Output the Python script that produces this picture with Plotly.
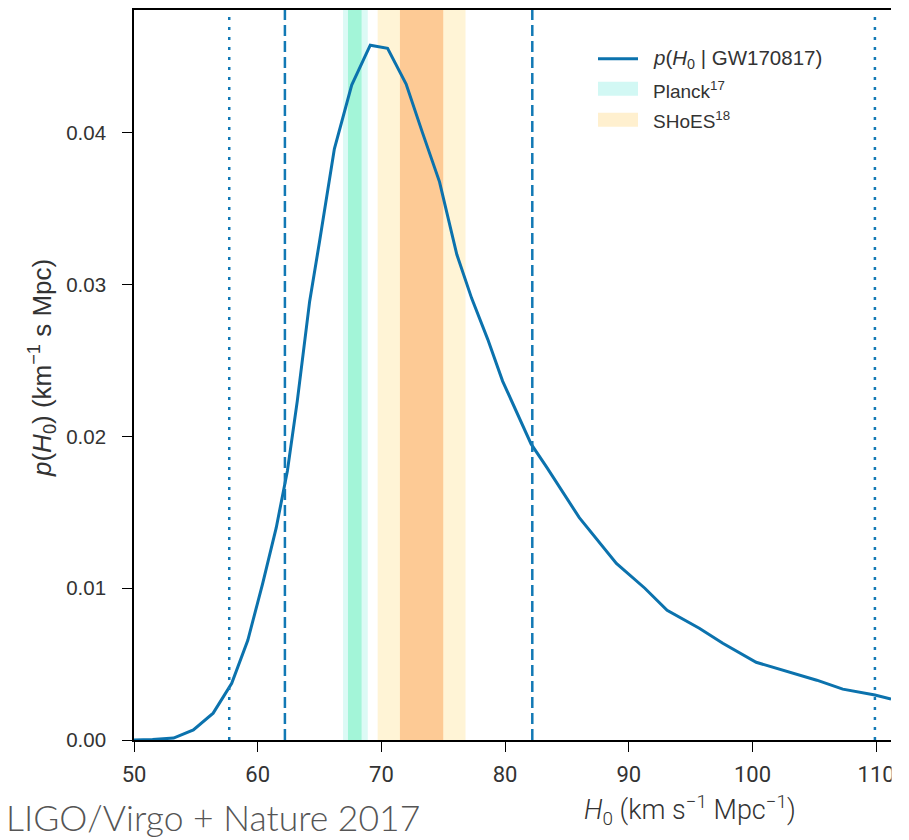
import plotly.graph_objects as go

# ---- data ----
h0 = [50, 51.5, 53.2, 54.8, 56.4, 57.9, 59.2, 60.4, 61.5, 62.4, 63.2, 64.2, 65.0,
      66.2, 67.6, 69.1, 70.5, 72.0, 73.3, 74.7, 76.1, 77.3, 78.6, 79.8, 82.1, 83.4,
      86.0, 89.0, 91.3, 93.1, 95.7, 97.6, 100.3, 101.9, 105.2, 107.3, 109.9, 111.2]
p_h0 = [0.0, 0.00003, 0.00013, 0.00066, 0.00177, 0.00374, 0.00657, 0.01031, 0.01399,
        0.01773, 0.02233, 0.0289, 0.03284, 0.03895, 0.04315, 0.04578, 0.04558, 0.04322,
        0.04007, 0.03678, 0.03199, 0.0291, 0.0264, 0.02365, 0.01951, 0.01793, 0.01465,
        0.01163, 0.0100, 0.00854, 0.00736, 0.00637, 0.00512, 0.00473, 0.00394, 0.00335,
        0.00296, 0.00269]

dashed_lines = [62.2, 82.2]        # 68% interval
dotted_lines = [57.7, 109.9]       # 95% interval

planck_1s = [67.3, 68.4]
planck_2s = [66.9, 68.9]
shoes_1s = [71.5, 75.0]
shoes_2s = [69.7, 76.8]

x_ticks = [50, 60, 70, 80, 90, 100, 110]
y_ticks = [0.0, 0.01, 0.02, 0.03, 0.04]

# ---- layout geometry (pixels) ----
W, H = 909, 840
L, R, T, B = 134, 891, 8, 740
pw, ph = R - L, B - T


def px(xp):
    return (xp - L) / pw


def py(yp):
    return (B - yp) / ph


CURVE = "#0b72ad"
LINE = "#1279b5"
FONT = "Liberation Sans, Arial, sans-serif"
TXT = "#333333"

fig = go.Figure()
fig.add_trace(go.Scatter(x=h0, y=p_h0, mode="lines",
                         line=dict(color=CURVE, width=3), showlegend=False,
                         hoverinfo="skip"))

shapes = []
# bands
for (a, b), col in [(planck_2s, "#dcfaf5"), (planck_1s, "#a3f5d8"),
                    (shoes_2s, "#fff4d6"), (shoes_1s, "#fdca95")]:
    shapes.append(dict(type="rect", xref="x", yref="paper", x0=a, x1=b, y0=0, y1=1,
                       fillcolor=col, line=dict(width=0), layer="below"))
# vertical interval lines
for v in dashed_lines:
    shapes.append(dict(type="line", xref="x", yref="paper", x0=v, x1=v, y0=0, y1=1,
                       line=dict(color=LINE, width=2.5, dash="11px,5px")))
for v in dotted_lines:
    shapes.append(dict(type="line", xref="x", yref="paper", x0=v, x1=v, y0=0, y1=1,
                       line=dict(color=LINE, width=2.5, dash="3px,7px")))

# manual legend
shapes.append(dict(type="line", xref="paper", yref="paper", x0=px(598), x1=px(638),
                   y0=py(57), y1=py(57), line=dict(color=CURVE, width=3)))
shapes.append(dict(type="rect", xref="paper", yref="paper", x0=px(598), x1=px(638),
                   y0=py(94), y1=py(80), fillcolor="#d2f8f4", line=dict(width=0)))
shapes.append(dict(type="rect", xref="paper", yref="paper", x0=px(598), x1=px(638),
                   y0=py(125), y1=py(111), fillcolor="#fff0cf", line=dict(width=0)))

# crop the right edge like the reference
shapes.append(dict(type="rect", xref="paper", yref="paper", x0=px(R + 0.5), x1=px(W + 5),
                   y0=py(742), y1=py(795), fillcolor="white", line=dict(width=0),
                   layer="above"))

annotations = [
    dict(text="<i>p</i>(<i>H</i><sub>0</sub> | GW170817)", x=px(651), y=py(57),
         xref="paper", yref="paper", xanchor="left", yanchor="middle", showarrow=False,
         font=dict(family=FONT, size=20.5, color=TXT)),
    dict(text="Planck<sup>17</sup>", x=px(651), y=py(88),
         xref="paper", yref="paper", xanchor="left", yanchor="middle", showarrow=False,
         font=dict(family=FONT, size=19, color=TXT)),
    dict(text="SHoES<sup>18</sup>", x=px(651), y=py(118),
         xref="paper", yref="paper", xanchor="left", yanchor="middle", showarrow=False,
         font=dict(family=FONT, size=19, color=TXT)),
    dict(text="<i>p</i>(<i>H</i><sub>0</sub>) (km<sup>−1</sup> s Mpc)", x=px(42), y=py(367),
         xref="paper", yref="paper", xanchor="center", yanchor="middle", showarrow=False,
         textangle=-90, font=dict(family=FONT, size=26, color=TXT)),
    dict(text="<i>H</i><sub>0</sub> (km s<sup>−1</sup> Mpc<sup>−1</sup>)", x=px(690), y=py(810),
         xref="paper", yref="paper", xanchor="center", yanchor="middle", showarrow=False,
         font=dict(family="Roboto, sans-serif", size=27, color=TXT, weight=300)),
    dict(text="LIGO/Virgo + Nature 2017", x=px(4), y=py(818),
         xref="paper", yref="paper", xanchor="left", yanchor="middle", showarrow=False,
         font=dict(family="Lato, Roboto, sans-serif", size=35.5, color="#555555",
                   weight=300)),
]

fig.update_layout(
    width=W, height=H,
    margin=dict(l=L, r=W - R, t=T, b=H - B, pad=0),
    paper_bgcolor="white", plot_bgcolor="white",
    showlegend=False,
    shapes=shapes, annotations=annotations,
    xaxis=dict(range=[50, 111.2], tickvals=x_ticks, ticktext=[str(v) for v in x_ticks],
               showgrid=False, zeroline=False, showline=True, linecolor="black",
               linewidth=1.6, mirror=True, ticks="outside", ticklen=10, tickwidth=1.4,
               tickcolor="black", ticklabelstandoff=4,
               tickfont=dict(family="Roboto, sans-serif", size=22, color=TXT)),
    yaxis=dict(range=[0, 0.0481], tickvals=y_ticks, tickformat=".2f",
               showgrid=False, zeroline=False, showline=True, linecolor="black",
               linewidth=1.6, mirror=False, ticks="outside", ticklen=10, tickwidth=1.4,
               tickcolor="black", ticklabelstandoff=12,
               tickfont=dict(family=FONT, size=20.5, color=TXT)),
)

fig.write_html("out.html")
